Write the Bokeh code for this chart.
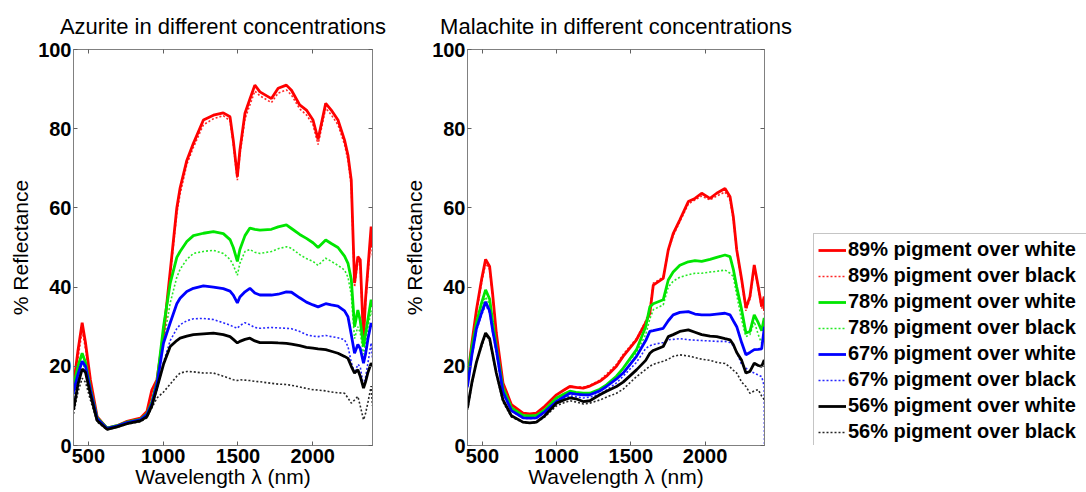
from bokeh.plotting import figure
from bokeh.models import Range1d, FixedTicker, LinearAxis, Legend, LegendItem
from bokeh.layouts import row
from bokeh.embed import file_html
from bokeh.resources import INLINE

# ---------------- data ----------------
X_TICKS = [500, 1000, 1500, 2000]
Y_TICKS = [0, 20, 40, 60, 80, 100]

TITLE_AZ = "Azurite in different concentrations"
TITLE_MA = "Malachite in different concentrations"
X_LABEL = "Wavelength \u03bb (nm)"
Y_LABEL = "% Reflectance"

SERIES_LABELS = [
    "89% pigment over white", "89% pigment over black",
    "78% pigment over white", "78% pigment over black",
    "67% pigment over white", "67% pigment over black",
    "56% pigment over white", "56% pigment over black",
]

AZ_WL = [400, 430, 458, 480, 513, 558, 624, 691, 758, 847, 891, 924, 958, 1002, 1047, 1091, 1113, 1158,
         1202, 1269, 1336, 1402, 1447, 1469, 1496, 1513, 1547, 1580, 1613, 1647, 1724, 1769, 1824, 1858,
         1913, 1958, 2002, 2036, 2087, 2124, 2169, 2213, 2236, 2258, 2280, 2302, 2318, 2340, 2353, 2370,
         2391, 2400]
AZ_89_WHITE = [15, 24, 31, 26, 16.6, 7.3, 4.4, 5, 6.1, 6.9, 8.6, 14, 16.6, 28, 44, 60, 65, 72, 76.3, 82.2,
               83.4, 84, 83, 77, 67.9, 74.6, 83.9, 87.5, 91, 89.3, 87.6, 90.2, 91, 89.7, 86, 84.7, 82.2,
               77.3, 86.4, 84.7, 82.2, 77.1, 73.3, 67, 41, 47.7, 46.9, 26.7, 36.8, 45, 55.3, 50]
AZ_89_BLACK = [14, 22, 29, 24.5, 15.5, 7, 4.3, 4.9, 5.9, 6.7, 8.3, 13, 16, 27, 43, 58.5, 63.5, 71, 75.3, 81,
               82.5, 83.3, 82, 76, 67, 73.5, 82.5, 86, 89.5, 88.3, 86.6, 89, 89.8, 88.5, 85, 83.5, 81, 76,
               85.2, 83.5, 81, 76, 72, 65.5, 40, 46.5, 45.5, 26, 35.5, 43.5, 53, 48]
AZ_78_WHITE = [15, 20, 23.3, 21, 14.5, 7, 4.4, 5, 5.9, 6.6, 8, 11, 16, 30, 41, 47.5, 49, 51.5, 53, 53.6, 54,
               53.5, 52, 50, 46.5, 49.5, 53, 54.9, 54.6, 54.4, 54.6, 55.2, 55.7, 54.8, 53.3, 52.3, 51.2, 50,
               51.9, 51, 50, 47.8, 46, 42, 30, 34.2, 31.5, 25, 28, 32, 36.8, 35]
AZ_78_BLACK = [13, 18, 21, 19, 13.5, 6.8, 4.3, 4.9, 5.8, 6.4, 7.5, 10, 15, 26, 36, 42.5, 44.5, 47, 48.5, 49,
               49.3, 48.5, 47, 45.5, 43, 46, 49, 49.5, 48.8, 48.5, 49, 49.7, 50.2, 49.8, 48.2, 47.2, 46.5,
               45.5, 47.3, 46.5, 45.5, 44.3, 42.5, 38, 27, 30, 28.5, 23, 26, 30, 34, 33]
AZ_67_WHITE = [13.6, 18, 21.3, 20, 14, 6.8, 4.3, 4.9, 5.8, 6.5, 7.8, 10.5, 15.5, 25.9, 31, 35.8, 37.2, 38.9,
               39.7, 40.3, 40, 39.6, 39, 38, 36, 37.5, 38.8, 39.7, 38.5, 38, 38, 38.2, 38.8, 38.7, 37.3,
               36.2, 35.5, 35, 35.8, 35.5, 35.2, 34, 32.5, 28, 23.3, 25.5, 24.5, 20.8, 23, 27, 30.9, 30]
AZ_67_BLACK = [12, 16.5, 19.5, 18.5, 13, 6.6, 4.2, 4.8, 5.6, 6.3, 7.3, 10, 14, 21, 26.5, 29.5, 30.5, 31.5,
               32, 32.1, 31.8, 31, 30.4, 30, 29.6, 30.3, 31, 30.5, 29.8, 29.6, 29.8, 29.7, 29.6, 29.5, 28.8,
               28, 27.6, 27.5, 27.8, 27.5, 27.2, 26.7, 25, 21, 18.3, 20.5, 19.9, 14.9, 17, 21, 25.9, 22]
AZ_56_WHITE = [9, 15.5, 19.3, 18.5, 13, 6.3, 4.1, 4.7, 5.5, 6.2, 7.3, 10, 14.5, 20.5, 25, 26.5, 27.1, 27.6,
               28, 28.2, 28.4, 28, 27.5, 26.8, 25.9, 26.3, 26.8, 27.1, 26.4, 26, 26, 25.9, 25.8, 25.6, 25.2,
               24.8, 24.6, 24.4, 24.2, 23.8, 23.3, 22.5, 22, 20, 18.3, 19.1, 17.5, 14.5, 16, 18.5, 20.8, 20]
AZ_56_BLACK = [8, 13.5, 17, 16, 11.5, 6, 4, 4.6, 5.4, 6, 7, 9.5, 12, 13.5, 15.5, 17.5, 18.3, 18.7, 18.6,
               18.3, 18.3, 17.5, 16.9, 16.6, 16.4, 16.6, 16.5, 16.4, 16.2, 16.1, 15.7, 15.5, 15.4, 15.2,
               14.8, 14.4, 14.1, 14, 13.8, 13.5, 13.3, 13.2, 12, 10.7, 11.5, 12.4, 10, 6.5, 8, 11, 15, 10]

MA_WL = [400, 430, 460, 495, 522, 549, 570, 594, 639, 696, 774, 819, 864, 920, 999, 1050, 1089, 1130, 1179,
         1224, 1291, 1336, 1403, 1448, 1538, 1600, 1628, 1651, 1718, 1752, 1785, 1830, 1887, 1932, 1977,
         2033, 2078, 2134, 2168, 2190, 2213, 2246, 2275, 2302, 2331, 2358, 2381, 2398, 2400]
MA_89_WHITE = [17, 26, 34.2, 42, 47, 45.2, 38, 28.4, 15.8, 10.3, 8.2, 8, 8.2, 9.9, 12.8, 14, 14.9, 14.7,
               14.5, 15, 16.2, 17.5, 20, 22.5, 26.7, 31, 33.4, 40.5, 42.2, 49.4, 53.5, 57, 61.6, 62.4, 63.7,
               62.4, 63.7, 64.9, 62.8, 57.8, 49.4, 42, 34.7, 37.6, 45.6, 40.1, 35.1, 37.6, 34]
MA_89_BLACK = [16.5, 25.5, 33.5, 41, 46, 44.5, 37.5, 28, 15.5, 10.2, 8.1, 7.9, 8.1, 9.8, 12.7, 14, 15, 14.8,
               14.7, 15.2, 16.5, 18, 20.5, 23, 27, 31.5, 34.5, 41, 42.5, 49, 53, 56.5, 61, 62, 63, 62, 63,
               64, 62, 57, 49, 41.5, 34, 37, 45, 39.5, 34.5, 36.5, 33]
MA_78_WHITE = [16.6, 25, 31, 36, 39.3, 37, 31, 25, 14.5, 9.5, 7.6, 7.5, 7.6, 9, 12, 13, 13.7, 13.4, 13.2,
               13.2, 14.2, 15.3, 17.5, 19.5, 24.2, 30, 35, 35.8, 36.8, 41.8, 43.8, 45.5, 46.4, 46.7, 46.5,
               47, 47.5, 48.1, 47.7, 44.5, 40, 34.3, 28.4, 28.8, 33, 31, 29, 32.2, 31]
MA_78_BLACK = [16, 24, 30, 35, 37.5, 35.5, 30, 24, 14, 9.3, 7.5, 7.4, 7.5, 8.9, 11.8, 12.8, 13.5, 13.3,
               13.1, 13.1, 14, 15.1, 17.2, 19.5, 23.5, 28, 32, 34.3, 35.5, 40, 41.5, 42.5, 43.1, 43.5, 43.5,
               43.8, 44, 44.3, 43.5, 42.7, 38, 31.7, 27.5, 28, 31.3, 28, 25.8, 29, 28]
MA_67_WHITE = [14.9, 23, 29.5, 33.5, 36.3, 34, 29, 24.2, 13.5, 8.8, 7, 6.9, 7, 8.5, 11.1, 12.3, 13.2, 13,
               12.8, 12.8, 13.8, 14.9, 16.8, 18.3, 22.5, 26.5, 28.8, 29, 29.6, 31.5, 33, 33.6, 33.8, 33.2,
               33, 33, 33.2, 33.4, 33, 31.5, 30, 26, 22.9, 23.5, 24.2, 24.3, 24.4, 29.5, 30]
MA_67_BLACK = [14.5, 22.5, 29, 33, 35.5, 33.5, 28.5, 23.5, 13.2, 8.7, 6.9, 6.8, 6.9, 8.3, 10.8, 11.8, 12.5,
               12.3, 12, 12.2, 13, 14, 15.8, 17.5, 21, 24.5, 25.2, 25.5, 26, 26.7, 26.8, 27, 26.7, 26.6,
               26.5, 26.4, 26.3, 26.3, 26, 25.2, 23.5, 20.5, 19.5, 18.8, 18.3, 17.8, 17.4, 15, 0]
MA_56_WHITE = [9.5, 16, 21, 25.5, 28.4, 27, 23, 18.3, 11.5, 7.5, 5.9, 5.7, 5.9, 7.5, 10.7, 11.5, 12, 11.8,
               11.1, 11.3, 12.8, 13.7, 14.9, 16, 19.1, 21.5, 23.3, 24, 25, 27.5, 28, 28.8, 29.2, 28.6, 28,
               27.6, 27.5, 27, 26.7, 25.5, 23.5, 21.5, 18.3, 18.7, 20.8, 20.2, 20, 21.6, 21]
MA_56_BLACK = [9, 15.5, 21, 25, 28, 26.5, 22.5, 18, 11, 7.2, 5.8, 5.6, 5.8, 7.2, 10, 10.8, 11.3, 11, 10.5,
               10.7, 11.5, 12.2, 13.2, 14.2, 17.4, 19.2, 20, 20.5, 21.3, 21.8, 22.5, 22.9, 22.6, 22.2, 21.8,
               21.5, 21, 20.7, 19.8, 19, 18.3, 16, 14.9, 13.2, 13.8, 14.1, 12.5, 11.6, 11]

AZ_SERIES = [AZ_89_WHITE, AZ_89_BLACK, AZ_78_WHITE, AZ_78_BLACK,
             AZ_67_WHITE, AZ_67_BLACK, AZ_56_WHITE, AZ_56_BLACK]
MA_SERIES = [MA_89_WHITE, MA_89_BLACK, MA_78_WHITE, MA_78_BLACK,
             MA_67_WHITE, MA_67_BLACK, MA_56_WHITE, MA_56_BLACK]

# ---------------- styles ----------------
COLORS = ["#ff0000", "#ff0000", "#00e600", "#00e600", "#0000ff", "#0000ff", "#000000", "#000000"]
FONT = "Liberation Sans"
FRAME_GRAY = "#808080"
FIG_H = 492


def line_style(i):
    solid = (i % 2 == 0)
    return dict(line_color=COLORS[i],
                line_width=2.8 if solid else 1.6,
                line_dash="solid" if solid else "2 2",
                line_alpha=1.0 if solid else 0.85)


def style_axis(ax, ticks, show_labels):
    ax.ticker = FixedTicker(ticks=ticks)
    ax.axis_line_color = FRAME_GRAY
    ax.major_tick_line_color = "#606060"
    ax.major_tick_in = 4
    ax.major_tick_out = 0
    ax.minor_tick_line_color = None
    ax.major_label_text_font = FONT
    ax.major_label_text_font_style = "bold"
    ax.major_label_text_color = "black"
    ax.axis_label_text_font = FONT
    ax.axis_label_text_font_style = "normal"
    ax.axis_label_text_font_size = "21px"
    ax.axis_label_text_color = "black"
    if show_labels:
        ax.major_label_text_font_size = "20px"
        ax.major_label_standoff = 3
    else:
        ax.major_label_text_font_size = "1px"
        ax.major_label_text_color = None
        ax.major_label_standoff = 0


def make_panel(title, width, b_left, b_right, wl, series):
    p = figure(width=width, height=FIG_H, x_range=Range1d(400, 2400), y_range=Range1d(0, 100),
               output_backend="svg", toolbar_location=None, title=title,
               min_border_left=b_left, min_border_right=b_right,
               min_border_top=49, min_border_bottom=47)
    p.title.align = "center"
    p.title.text_font = FONT
    p.title.text_font_size = "22px"
    p.title.text_font_style = "normal"
    p.title.text_color = "black"
    p.title.standoff = 22
    p.grid.visible = False
    p.outline_line_color = FRAME_GRAY
    p.background_fill_color = "white"
    p.border_fill_color = "white"

    style_axis(p.xaxis[0], X_TICKS, True)
    style_axis(p.yaxis[0], Y_TICKS, True)
    p.yaxis[0].major_label_standoff = 2
    p.xaxis[0].axis_label = X_LABEL
    p.xaxis[0].axis_label_standoff = -1
    p.yaxis[0].axis_label = Y_LABEL
    p.yaxis[0].axis_label_standoff = 3

    top = LinearAxis()
    style_axis(top, X_TICKS, False)
    p.add_layout(top, "above")
    right = LinearAxis()
    style_axis(right, Y_TICKS, False)
    p.add_layout(right, "right")

    for i, vals in enumerate(series):
        p.line(x=wl, y=vals, **line_style(i))
    return p


p1 = make_panel(TITLE_AZ, 400, 73, 28, AZ_WL, AZ_SERIES)
p2 = make_panel(TITLE_MA, 392, 67, 28, MA_WL, MA_SERIES)

# legend-only panel to the right of the malachite plot (its glyphs sit outside the visible range)
p3 = figure(width=294, height=FIG_H, x_range=Range1d(0, 1), y_range=Range1d(0, 1),
            output_backend="svg", toolbar_location=None,
            x_axis_location=None, y_axis_location=None,
            min_border=0, min_border_left=0, min_border_right=0, min_border_top=0, min_border_bottom=0)
p3.grid.visible = False
p3.outline_line_color = None
p3.background_fill_color = "white"
p3.border_fill_color = "white"
legend_rends = [p3.line(x=[5, 6], y=[5, 6], **line_style(i)) for i in range(len(SERIES_LABELS))]

legend = Legend(items=[LegendItem(label=lab, renderers=[r]) for lab, r in zip(SERIES_LABELS, legend_rends)],
                location=(21, -3))
legend.label_text_font = FONT
legend.label_text_font_style = "bold"
legend.label_text_font_size = "20px"
legend.label_text_color = "black"
legend.label_standoff = 2
legend.label_width = 236
legend.glyph_width = 28
legend.glyph_height = 20
legend.label_height = 20
legend.spacing = 3
legend.padding = 4
legend.margin = 0
legend.border_line_color = "#8c8c8c"
legend.border_line_width = 1
legend.background_fill_color = "white"
legend.background_fill_alpha = 1.0
p3.add_layout(legend, "center")

layout = row(p1, p2, p3)

with open("out.html", "w") as f:
    f.write(file_html(layout, INLINE))
